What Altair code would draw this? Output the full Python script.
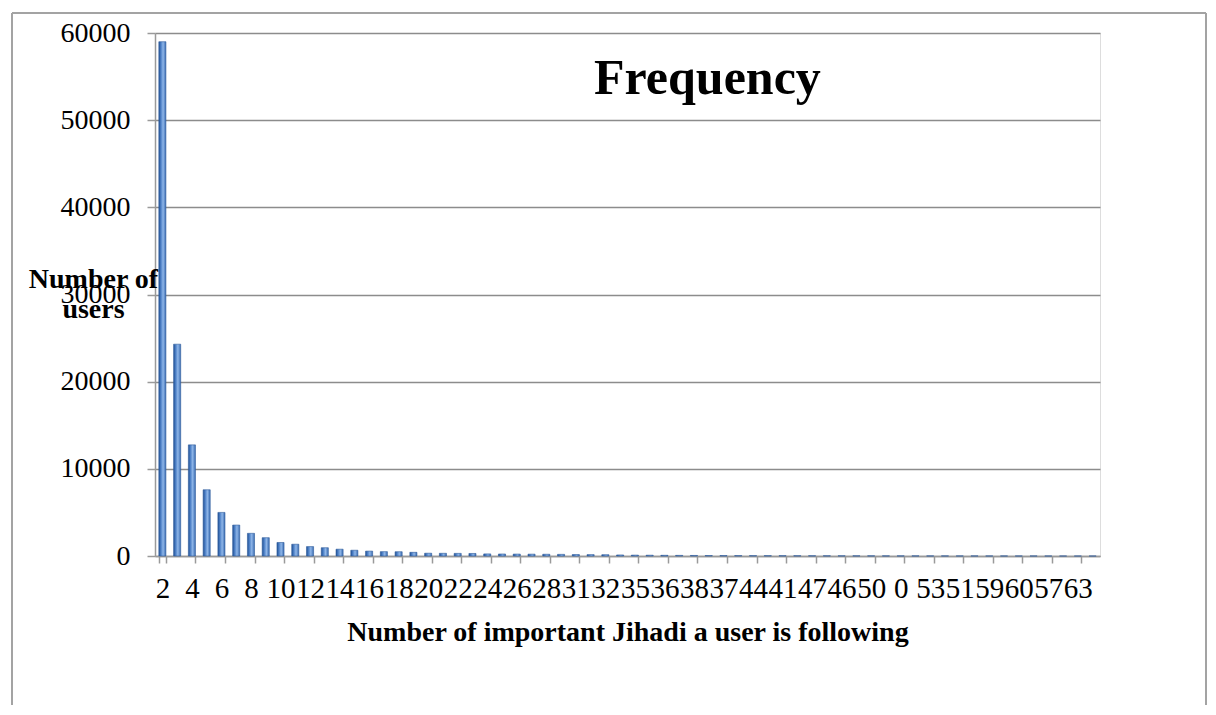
import altair as alt
import pandas as pd

categories = ["2", "3", "4", "5", "6", "7", "8", "9", "10", "11", "12", "13", "14", "15",
              "16", "17", "18", "19", "20", "21", "22", "23", "24", "25", "26", "27", "28",
              "29", "31", "30", "32", "33", "35", "34", "36", "40", "38", "39", "37", "42",
              "44", "43", "41", "45", "47", "48", "46", "49", "50", "52", "0", "54", "53",
              "55", "51", "56", "59", "58", "60", "61", "57", "62", "63", "64"]
users = [59000, 24300, 12750, 7600, 5000, 3550, 2600, 2100, 1550, 1350, 1080, 950, 780, 660,
         560, 500, 490, 420, 320, 310, 300, 290, 240, 230, 220, 210, 200, 190, 170, 160,
         150, 120, 100, 90, 80, 70, 62, 55, 50, 45, 40, 38, 35, 30, 28, 25, 22, 20, 18, 16,
         15, 14, 12, 11, 10, 9, 8, 7, 6, 5, 4, 3, 2, 1]
shown_labels = categories[::2]
y_ticks = [0, 10000, 20000, 30000, 40000, 50000, 60000]

df = pd.DataFrame({"cat": categories, "users": users})

FONT = "Liberation Serif"
GRAY = "#9a9a9a"

bars = alt.Chart(df).mark_bar(
    color=alt.Gradient(
        gradient="linear", x1=0, x2=1, y1=0, y2=0,
        stops=[alt.GradientStop(color="#1f4f93", offset=0),
               alt.GradientStop(color="#4f82c8", offset=0.3),
               alt.GradientStop(color="#8fb6e8", offset=0.6),
               alt.GradientStop(color="#3a6cb2", offset=1)]),
    stroke="#2f5c9c", strokeWidth=0.6
).encode(
    x=alt.X("cat:N", sort=categories,
            scale=alt.Scale(paddingInner=0.52, paddingOuter=0.26),
            axis=alt.Axis(values=shown_labels, labelAngle=0, labelOverlap=False,
                          labelFont=FONT, labelFontSize=29, labelColor="black",
                          labelPadding=11, tickBand="extent", tickSize=7, tickColor=GRAY,
                          tickWidth=1.5, domainColor=GRAY, domainWidth=1.5,
                          title="Number of important Jihadi a user is following",
                          titleFont=FONT, titleFontSize=28, titleFontWeight="bold",
                          titleColor="black", titlePadding=15)),
    y=alt.Y("users:Q", scale=alt.Scale(domain=[0, 60000], nice=False),
            axis=alt.Axis(values=y_ticks, format="d", labelFont=FONT, labelFontSize=28,
                          labelColor="black", labelPadding=17, tickSize=8, tickColor=GRAY,
                          tickWidth=1.5, domainColor=GRAY, domainWidth=1.5,
                          grid=True, gridColor="#8c8c8c", gridWidth=1.5,
                          title=["Number of", "users"], titleAngle=0, titleAlign="center",
                          titleBaseline="alphabetic", titleX=-62, titleY=254,
                          titleFont=FONT, titleFontSize=28, titleFontWeight="bold",
                          titleColor="black", titleLineHeight=30)),
)

heading = alt.Chart(pd.DataFrame({"t": ["Frequency"]})).mark_text(
    font=FONT, fontSize=50, fontWeight="bold", align="left", baseline="alphabetic",
    color="black"
).encode(text="t:N", x=alt.value(439), y=alt.value(61))

frame_color = "#a3a3a3"
frame_left = alt.Chart(pd.DataFrame({"a": [0]})).mark_rule(
    color=frame_color, strokeWidth=2
).encode(x=alt.value(-143), y=alt.value(-20), y2=alt.value(672))
frame_top = alt.Chart(pd.DataFrame({"a": [0]})).mark_rule(
    color=frame_color, strokeWidth=2
).encode(x=alt.value(-143), x2=alt.value(1051), y=alt.value(-20))
frame_right = alt.Chart(pd.DataFrame({"a": [0]})).mark_rule(
    color=frame_color, strokeWidth=2
).encode(x=alt.value(1051), y=alt.value(-20), y2=alt.value(672))

chart = alt.layer(bars, heading, frame_left, frame_top, frame_right).properties(
    width=945, height=523,
    padding={"left": 3, "top": 4, "right": 0, "bottom": 0},
).configure_view(stroke=None).configure(background="white")

chart.save("out.html", embed_options={"renderer": "svg", "actions": False})
